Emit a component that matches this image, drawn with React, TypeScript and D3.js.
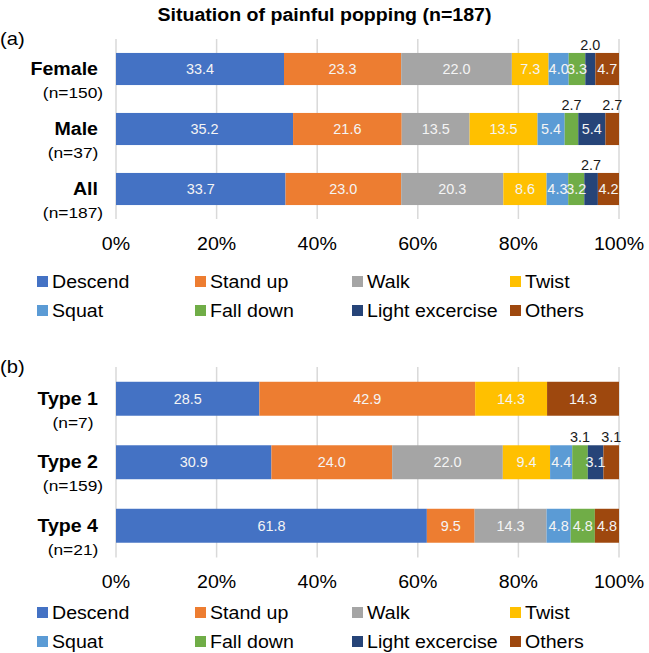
import React, { useRef, useEffect } from 'react';
import * as d3 from 'd3';

/* ---------- Data ---------- */
const SERIES = ['Descend', 'Stand up', 'Walk', 'Twist', 'Squat', 'Fall down', 'Light excercise', 'Others'];
const SERIES_COLORS = ['#4472C4', '#ED7D31', '#A5A5A5', '#FFC000', '#5B9BD5', '#70AD47', '#264478', '#9E480E'];

const GROUPS_A = ['Female', 'Male', 'All'];
const COUNTS_A = ['(n=150)', '(n=37)', '(n=187)'];
const VALUES_A = [
  [33.4, 23.3, 22.0, 7.3, 4.0, 3.3, 2.0, 4.7],
  [35.2, 21.6, 13.5, 13.5, 5.4, 2.7, 5.4, 2.7],
  [33.7, 23.0, 20.3, 8.6, 4.3, 3.2, 2.7, 4.2],
];
// segments whose label sits above the bar
const ABOVE_A = ['Female|Light excercise', 'Male|Fall down', 'Male|Others', 'All|Light excercise'];

const GROUPS_B = ['Type 1', 'Type 2', 'Type 4'];
const COUNTS_B = ['(n=7)', '(n=159)', '(n=21)'];
const VALUES_B = [
  [28.5, 42.9, 0, 14.3, 0, 0, 0, 14.3],
  [30.9, 24.0, 22.0, 9.4, 4.4, 3.1, 3.1, 3.1],
  [61.8, 9.5, 14.3, 0, 4.8, 4.8, 0, 4.8],
];
const ABOVE_B = ['Type 2|Fall down', 'Type 2|Others'];

const TICKS = [0, 20, 40, 60, 80, 100];

const TITLE = 'Situation of painful popping (n=187)';

type Row = { group: string; [key: string]: number | string };

const FONT = '"Liberation Sans", Arial, sans-serif';
const SX = 1.12; // the source figure is stretched a little horizontally

const App: React.FC = () => {
  const svgRef = useRef<SVGSVGElement>(null);

  useEffect(() => {
    const node = svgRef.current;
    if (!node) return;
    const svg = d3.select(node);
    svg.selectAll('*').remove();

    const width = 649;
    const xLeft = 116;
    const xRight = 619;

    const x = d3.scaleLinear().domain([0, 100]).range([xLeft, xRight]);

    const addText = (
      g: d3.Selection<any, unknown, null, undefined>,
      tx: number,
      ty: number,
      str: string,
      size: number,
      anchor = 'start',
      weight = 'normal',
      fill = '#000',
      sx = SX
    ) =>
      g
        .append('text')
        .attr('transform', `translate(${tx},${ty}) scale(${sx},1)`)
        .attr('text-anchor', anchor)
        .style('font-family', FONT)
        .style('font-size', `${size}px`)
        .style('font-weight', weight)
        .attr('fill', fill)
        .text(str);

    /* ---------- Title ---------- */
    addText(svg, width / 2, 21, TITLE, 19, 'middle', 'bold', '#000', 1.03);

    const drawPanel = (opts: {
      tag: string;
      tagY: number;
      groups: string[];
      counts: string[];
      values: number[][];
      above: string[];
      gridTop: number;
      gridBottom: number;
      tickY: number;
      legendY: number[];
    }) => {
      const g = svg.append('g');

      const rows: Row[] = opts.groups.map((grp, i) => {
        const r: Row = { group: grp };
        SERIES.forEach((s, j) => (r[s] = opts.values[i][j]));
        return r;
      });

      const y = d3
        .scaleBand<string>()
        .domain(opts.groups)
        .range([opts.gridTop, opts.gridBottom])
        .paddingInner(0.465)
        .paddingOuter(0.2325);

      /* gridlines */
      g.selectAll('line.grid')
        .data(TICKS)
        .enter()
        .append('line')
        .attr('x1', (d) => x(d))
        .attr('x2', (d) => x(d))
        .attr('y1', opts.gridTop)
        .attr('y2', opts.gridBottom)
        .attr('stroke', '#D9D9D9')
        .attr('stroke-width', 1.5);

      /* tick labels */
      TICKS.forEach((t) => addText(g, x(t), opts.tickY, `${t}%`, 17.5, 'middle', 'normal', '#000'));

      /* stacked bars */
      const stacked = d3.stack<Row>().keys(SERIES)(rows);
      stacked.forEach((layer, si) => {
        g.selectAll(`rect.s${si}`)
          .data(layer)
          .enter()
          .append('rect')
          .attr('x', (d) => x(d[0]))
          .attr('y', (d) => y(d.data.group)!)
          .attr('width', (d) => x(d[1]) - x(d[0]))
          .attr('height', y.bandwidth())
          .attr('fill', SERIES_COLORS[si]);
      });

      /* value labels */
      stacked.forEach((layer, si) => {
        layer.forEach((d) => {
          const v = d[1] - d[0];
          if (v <= 0) return;
          const cx = (x(d[0]) + x(d[1])) / 2;
          const top = y(d.data.group)!;
          const isAbove = opts.above.includes(`${d.data.group}|${SERIES[si]}`);
          if (isAbove) {
            addText(g, cx, top - 3, v.toFixed(1), 14, 'middle', 'normal', '#1a1a1a', 1.03);
          } else {
            addText(g, cx, top + y.bandwidth() / 2 + 5, v.toFixed(1), 14, 'middle', 'normal', '#f4f4f4', 1.03);
          }
        });
      });

      /* category labels */
      opts.groups.forEach((grp, i) => {
        const cy = y(grp)! + y.bandwidth() / 2;
        addText(g, 98, cy + 6, grp, 17.5, 'end', 'bold', '#000');
        addText(g, 73, cy + 29, opts.counts[i], 15.5, 'middle', 'normal', '#000');
      });

      /* panel tag */
      addText(g, 0, opts.tagY, opts.tag, 18, 'start', 'normal', '#000');

      /* legend */
      const colX = [37, 195, 352, 510];
      SERIES.forEach((s, i) => {
        const lx = colX[i % 4];
        const ly = opts.legendY[Math.floor(i / 4)];
        g.append('rect')
          .attr('x', lx)
          .attr('y', ly - 12)
          .attr('width', 11)
          .attr('height', 11)
          .attr('fill', SERIES_COLORS[i]);
        addText(g, lx + 15, ly, s, 17.5, 'start', 'normal', '#000');
      });
    };

    drawPanel({
      tag: '(a)',
      tagY: 45,
      groups: GROUPS_A,
      counts: COUNTS_A,
      values: VALUES_A,
      above: ABOVE_A,
      gridTop: 39,
      gridBottom: 219,
      tickY: 250,
      legendY: [288, 317],
    });

    drawPanel({
      tag: '(b)',
      tagY: 373,
      groups: GROUPS_B,
      counts: COUNTS_B,
      values: VALUES_B,
      above: ABOVE_B,
      gridTop: 367,
      gridBottom: 557.5,
      tickY: 588,
      legendY: [619, 648],
    });
  }, []);

  return (
    <div style={{ position: 'absolute', left: 0, top: 0 }}>
      <svg ref={svgRef} width={649} height={653} style={{ display: 'block', background: '#fff' }} />
    </div>
  );
};

export default App;
